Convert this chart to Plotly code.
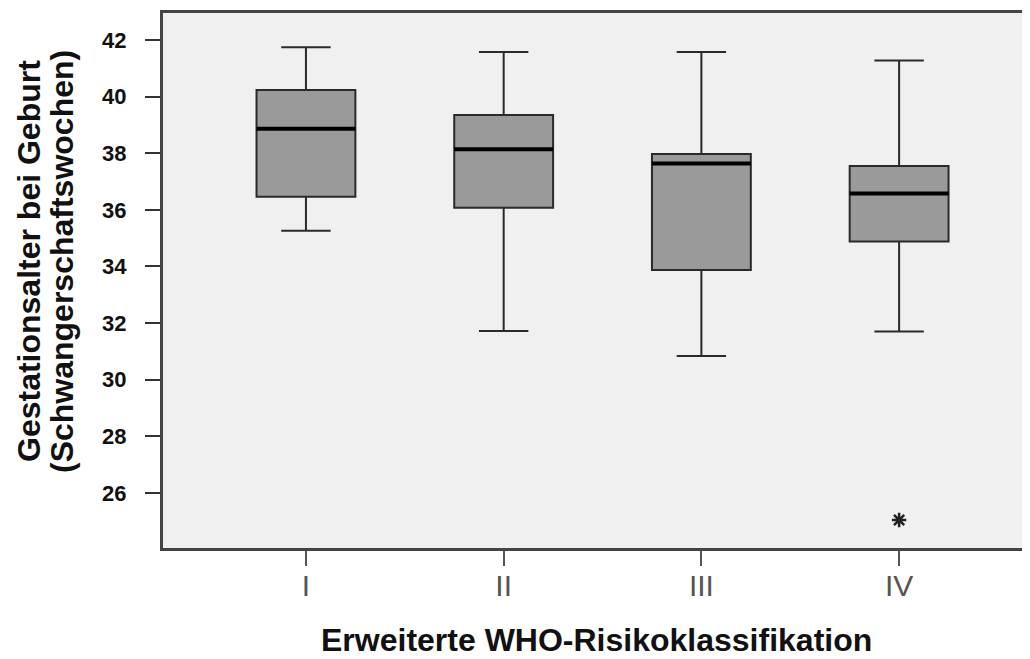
import plotly.graph_objects as go

categories = ["I", "II", "III", "IV"]
upper_whisker = [41.74, 41.57, 41.57, 41.27]
q3_values = [40.23, 39.35, 37.97, 37.55]
medians = [38.86, 38.14, 37.64, 36.58]
q1_values = [36.46, 36.07, 33.88, 34.88]
lower_whisker = [35.26, 31.72, 30.84, 31.70]
outlier_cat = ["IV"]
outlier_val = [25.05]
y_ticks = [26, 28, 30, 32, 34, 36, 38, 40, 42]

FONT = "Liberation Sans, Arial, sans-serif"
OFF = 8  # page body margin of the browser

fig = go.Figure()
fig.add_trace(go.Box(
    x=categories,
    q1=q1_values, median=medians, q3=q3_values,
    lowerfence=lower_whisker, upperfence=upper_whisker,
    fillcolor="#9a9a9a",
    line=dict(color="#2a2a2a", width=2),
    width=0.5, whiskerwidth=0.5,
    boxpoints=False, showlegend=False, hoverinfo="skip",
))
fig.add_trace(go.Scatter(
    x=outlier_cat, y=outlier_val, mode="markers",
    marker=dict(symbol="asterisk-open", size=12, color="#222",
                line=dict(color="#222", width=2.5)),
    showlegend=False, hoverinfo="skip",
))

# thick median bars derived from data
for i, m in enumerate(medians):
    fig.add_shape(type="line", xref="x", yref="y",
                  x0=i - 0.25, x1=i + 0.25, y0=m, y1=m,
                  line=dict(color="#000", width=4), layer="above")

fig.update_layout(
    width=1030 - OFF, height=659 - OFF,
    margin=dict(l=163 - OFF, r=0, t=13 - OFF, b=111, pad=0),
    paper_bgcolor="white", plot_bgcolor="#f0f0f0",
    font=dict(family=FONT, color="#111"),
)
fig.update_xaxes(
    type="category", categoryorder="array", categoryarray=categories,
    range=[-0.723, 3.662],
    showline=True, linecolor="#444", linewidth=3, mirror=True,
    ticks="outside", ticklen=15, tickwidth=2, tickcolor="#555",
    tickfont=dict(family=FONT, size=30, color="#555"),
    ticklabelstandoff=-6,
    showgrid=False, zeroline=False,
)
fig.update_yaxes(
    range=[24.06, 42.95],
    tickvals=y_ticks, ticktext=[str(v) for v in y_ticks],
    showline=True, linecolor="#444", linewidth=3,
    ticks="outside", ticklen=15, tickwidth=2, tickcolor="#333",
    tickfont=dict(family=FONT, size=22, color="#111", weight="bold"),
    ticklabelstandoff=14,
    showgrid=False, zeroline=False,
)

pw = 1030 - 163
ph = 659 - 13 - 111
fig.add_annotation(text="Gestationsalter bei Geburt", xref="paper", yref="paper",
                   x=(29 - 163) / pw, y=(548 - 261) / ph, textangle=-90,
                   showarrow=False, xanchor="center", yanchor="middle",
                   font=dict(family=FONT, size=32, color="#111", weight="bold"))
fig.add_annotation(text="(Schwangerschaftswochen)", xref="paper", yref="paper",
                   x=(62 - 163) / pw, y=(548 - 262) / ph, textangle=-90,
                   showarrow=False, xanchor="center", yanchor="middle",
                   font=dict(family=FONT, size=32, color="#111", weight="bold"))
fig.add_annotation(text="Erweiterte WHO-Risikoklassifikation", xref="paper", yref="paper",
                   x=(596 - 163) / pw, y=(548 - 640) / ph,
                   showarrow=False, xanchor="center", yanchor="middle",
                   font=dict(family=FONT, size=32, color="#111", weight="bold"))

fig.write_html(
    "out.html",
    post_script="document.documentElement.style.overflow='hidden';"
                "document.body.style.overflow='hidden';",
)
